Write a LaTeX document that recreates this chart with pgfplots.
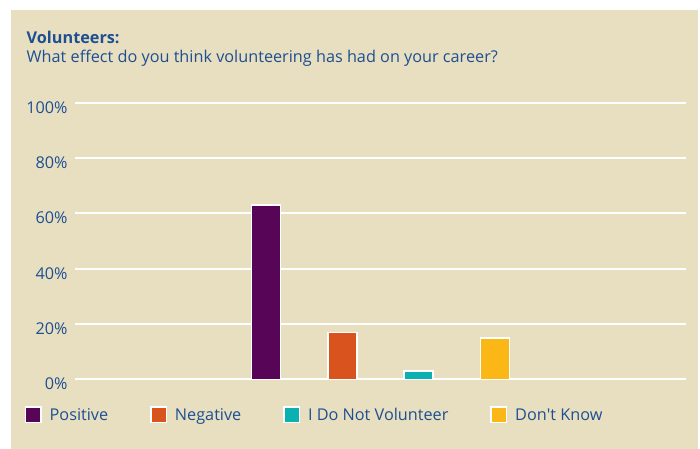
\documentclass[border=0pt]{standalone}
\usepackage{fontspec}
\setmainfont{Open Sans}
\usepackage{pgfplots}
\pgfplotsset{compat=1.18}
\definecolor{bgbeige}{HTML}{E8DFC1}
\definecolor{cpurple}{HTML}{560557}
\definecolor{corange}{HTML}{D9531E}
\definecolor{cteal}{HTML}{0BB1B0}
\definecolor{cyellow}{HTML}{FBB715}
\definecolor{tblue}{HTML}{1D4F91}
\begin{document}
\begin{tikzpicture}
\useasboundingbox (0,0) rectangle (700bp,449bp);
\fill[white] (0,0) rectangle (700bp,449bp);
\fill[bgbeige] (11bp,0) rectangle (698bp,439bp);
\node[anchor=base west, inner sep=0pt, text=tblue, font=\fontsize{16.3}{18}\selectfont\bfseries] at (26.5bp,405.7bp) {Volunteers:};
\node[anchor=base west, inner sep=0pt, text=tblue, font=\fontsize{16.3}{18}\selectfont] at (26.5bp,386.3bp) {What effect do you think volunteering has had on your career?};
\begin{axis}[
  at={(75bp,69.7bp)}, anchor=origin,
  scale only axis, width=611bp, height=276.5bp,
  xmin=0, xmax=8, ymin=0, ymax=100,
  axis line style={draw=none},
  xtick=\empty,
  ytick={0,20,40,60,80,100},
  yticklabels={0\%,20\%,40\%,60\%,80\%,100\%},
  major tick length=0pt,
  ymajorgrids,
  major grid style={white, line width=2.2bp},
  yticklabel style={text=tblue, font=\fontsize{16.3}{18}\selectfont, anchor=east, xshift=-4bp, yshift=-4.5bp},
  ybar, bar width=29bp, bar shift=0pt,
  every axis plot/.append style={draw=white, line width=1.5bp},
  legend columns=4,
  legend image code/.code={\draw[#1] (0bp,-7.75bp) rectangle (15.5bp,7.75bp); \path[draw=none,fill=none] (0bp,0bp) -- (22bp,0bp);},
  legend style={draw=none, fill=none, inner sep=0pt, at={(-0.0822,-0.129)}, anchor=west,
    font=\fontsize{16.3}{18}\selectfont, text=tblue,
    /tikz/every even column/.append style={column sep=40bp}},
]
\addplot[fill=cpurple] coordinates {(2.5,63)};
\addplot[fill=corange] coordinates {(3.5,17)};
\addplot[fill=cteal] coordinates {(4.5,3)};
\addplot[fill=cyellow] coordinates {(5.5,15)};
\legend{Positive,Negative,I Do Not Volunteer\hspace{4bp},Don\textquotesingle t Know}
\end{axis}
\end{tikzpicture}
\end{document}
